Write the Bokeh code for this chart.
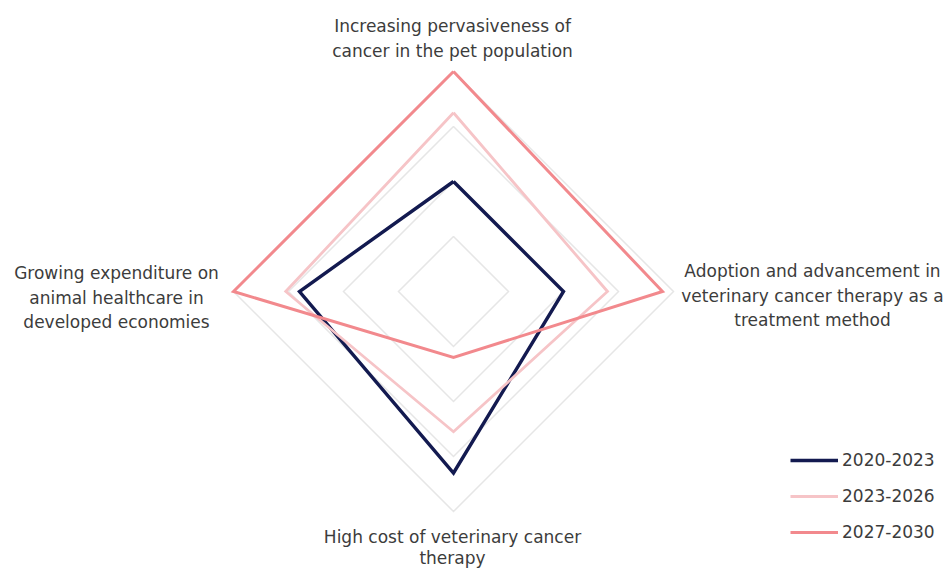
import numpy as np
from bokeh.plotting import figure
from bokeh.models import Range1d, Legend, LegendItem
from bokeh.core.properties import value
from bokeh.embed import file_html
from bokeh.resources import INLINE

# Radar axes (clockwise from the top)
categories = [
    "Increasing pervasiveness of\ncancer in the pet population",
    "Adoption and advancement in\nveterinary cancer therapy as a\ntreatment method",
    "High cost of veterinary cancer\ntherapy",
    "Growing expenditure on\nanimal healthcare in\ndeveloped economies",
]
periods = ["2020-2023", "2023-2026", "2027-2030"]
impact_2020_2023 = [2.0, 2.0, 3.3, 2.8]
impact_2023_2026 = [3.25, 2.8, 2.55, 3.05]
impact_2027_2030 = [4.0, 3.8, 1.2, 4.0]
rings = [1, 2, 3, 4]

W, H = 946, 569
CX, CY = 453, 291          # centre of the radar in screen pixels
UNIT = 55                  # pixels per impact unit

def sx(px):
    return (px - CX) / UNIT

def sy(py):
    return (CY - py) / UNIT

p = figure(width=W, height=H, output_backend="svg", toolbar_location=None,
           x_range=Range1d(sx(0), sx(W)), y_range=Range1d(sy(H), sy(0)),
           min_border=0, outline_line_color=None, background_fill_color="white",
           border_fill_color="white")
p.axis.visible = False
p.grid.visible = False

n = len(categories)
angles = np.arange(n) * 2 * np.pi / n

def closed_xy(vals):
    vals = np.asarray(vals, dtype=float)
    xs = vals * np.sin(angles)
    ys = vals * np.cos(angles)
    return list(xs) + [xs[0]], list(ys) + [ys[0]]

# Concentric grid diamonds
for r in rings:
    gx, gy = closed_xy([r] * n)
    p.line(gx, gy, line_color="#e6e6e6", line_width=1.5, line_join="miter")

series = [impact_2020_2023, impact_2023_2026, impact_2027_2030]
colors = ["#131a50", "#f6c4c7", "#f2898d"]
widths = [3.4, 2.8, 3.0]
renderers = []
for vals, c, w in zip(series, colors, widths):
    x, y = closed_xy(vals)
    renderers.append(p.line(x, y, line_color=c, line_width=w, line_join="miter"))

# Axis labels, one text line at a time
font = value("DejaVu Sans")
label_color = "#3c3c3c"
label_specs = [
    (452, [25, 50]),             # top
    (812, [270, 295, 319]),      # right
    (452, [536, 557]),           # bottom
    (116, [272, 297, 321]),      # left
]
for cat, (px, baselines) in zip(categories, label_specs):
    lines = cat.split("\n")
    p.text(x=[sx(px)] * len(lines), y=[sy(b) for b in baselines], text=lines,
           text_font=font, text_font_size="17px", text_color=label_color,
           text_align="center", text_baseline="alphabetic")

legend = Legend(
    items=[LegendItem(label=lab, renderers=[r]) for lab, r in zip(periods, renderers)],
    location=(790, 27), orientation="vertical",
    glyph_width=48, glyph_height=20, label_height=20, spacing=16,
    label_standoff=4, padding=0, margin=0,
    label_text_font="DejaVu Sans", label_text_font_size="17px",
    label_text_color=label_color,
    border_line_color=None, background_fill_alpha=0,
)
p.add_layout(legend, "center")

open("out.html", "w").write(file_html(p, INLINE))
